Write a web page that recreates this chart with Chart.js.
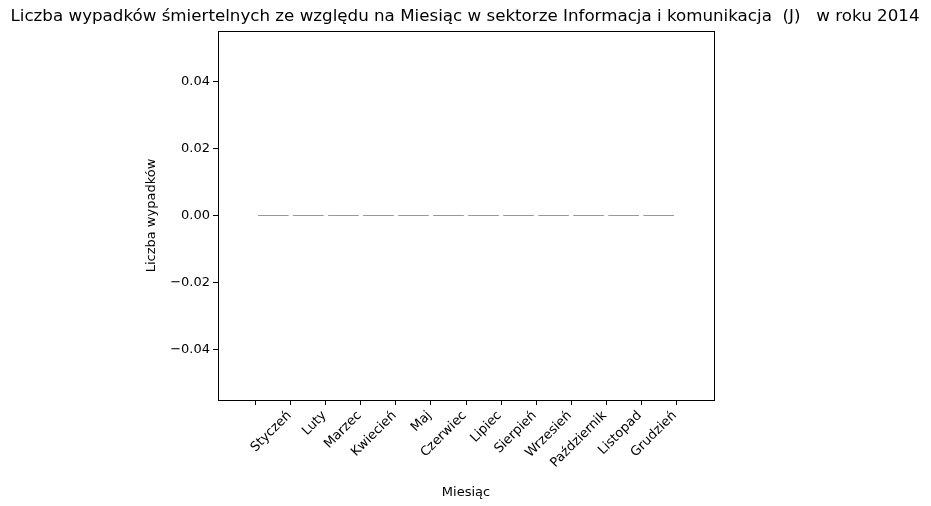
<!DOCTYPE html>
<html><head><meta charset="utf-8">
<script src="https://cdn.jsdelivr.net/npm/chart.js@4"></script>
<style>body{margin:0;background:#fff}#wrap{width:931px;height:506px}</style>
</head><body><div id="wrap"><canvas id="c"></canvas></div>
<script>
const months = ['Styczeń','Luty','Marzec','Kwiecień','Maj','Czerwiec','Lipiec','Sierpień','Wrzesień','Październik','Listopad','Grudzień'];
const accidents = [0,0,0,0,0,0,0,0,0,0,0,0];
const titleText = 'Liczba wypadków śmiertelnych ze względu na Miesiąc w sektorze Informacja i komunikacja  (J)   w roku 2014';
const yTicks = [-0.04,-0.02,0,0.02,0.04];

const frame = {
  id: 'frame',
  afterDraw(chart) {
    const {ctx, chartArea: a} = chart;
    ctx.save();
    ctx.strokeStyle = '#000'; ctx.lineWidth = 1;
    ctx.strokeRect(a.left + 0.5, a.top + 0.5, a.right - a.left, a.bottom - a.top);
    ctx.fillStyle = '#000';
    ctx.font = '16.7px "DejaVu Sans"';
    ctx.textAlign = 'center'; ctx.textBaseline = 'middle';
    ctx.fillText(titleText, 465, 17);
    ctx.restore();
  }
};

Chart.defaults.font.family = '"DejaVu Sans", sans-serif';
Chart.defaults.color = '#000';
new Chart(document.getElementById('c'), {
  type: 'bar',
  data: { datasets: [{ data: accidents.map((v, i) => ({x: i, y: v})), backgroundColor: '#1f77b4', borderWidth: 0, barThickness: 30 }] },
  options: {
    responsive: true, maintainAspectRatio: false, animation: false,
    layout: { padding: { top: 31, right: 217, left: 140, bottom: 0 } },
    plugins: { legend: { display: false }, tooltip: { enabled: false } },
    scales: {
      x: {
        type: 'linear', min: -0.99, max: 11.99,
        afterBuildTicks: s => { s.ticks = months.map((m, i) => ({value: i})); },
        afterFit: s => { s.height = 106; },
        ticks: { callback: (v) => months[v], maxRotation: 45, minRotation: 45, autoSkip: false, labelOffset: 16, font: { size: 13 } },
        grid: { drawOnChartArea: false, tickLength: 5, color: '#000' },
        border: { color: '#000' },
        title: { display: true, text: 'Miesiąc', font: { size: 13 }, padding: { top: 0, bottom: 6 } }
      },
      y: {
        min: -0.055, max: 0.055,
        afterBuildTicks: s => { s.ticks = yTicks.map(v => ({value: v})); },
        afterFit: s => { s.width = 78; },
        ticks: { callback: v => v.toFixed(2).replace('-', '\u2212'), font: { size: 13 } },
        grid: { drawOnChartArea: false, tickLength: 5, color: '#000' },
        border: { color: '#000' },
        title: { display: true, text: 'Liczba wypadków', font: { size: 13 } }
      }
    }
  },
  plugins: [frame]
});
</script></body></html>
